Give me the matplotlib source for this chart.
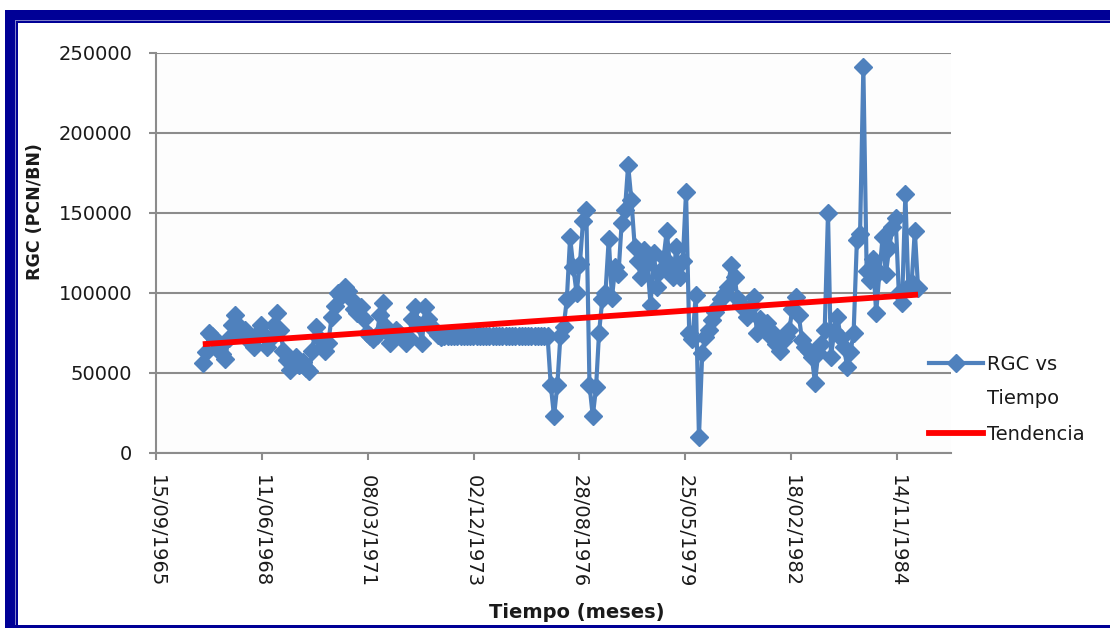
import datetime as dt
import numpy as np
import matplotlib
matplotlib.use("Agg")
import matplotlib.pyplot as plt
import matplotlib.dates as mdates
from matplotlib.patches import Rectangle
from matplotlib.lines import Line2D

# Monthly RGC readings, December 1966 through June 1985
first_month = (1966, 12)
rgc = [
    56000, 63000, 75000, 73000, 70000, 66000, 62000, 59000, 72000, 80000,
    86000, 80000, 76000, 77000, 72000, 69000, 66000, 75000, 80000, 74000,
    66000, 72000, 80000, 87500, 77000, 64000, 58000, 52000, 56000, 60000,
    55000, 57000, 53000, 51000, 64000, 79000, 72000, 66000, 64000, 69000,
    85000, 92000, 100000, 98000, 104000, 101000, 96000, 90000, 87500, 91000,
    84000, 75000, 73000, 71000, 74000, 86000, 94000, 79000, 69000, 72000,
    77000, 75000, 71000, 69000, 72000, 84000, 91000, 80000, 69000, 91000,
    84000, 79000, 76000, 74000, 72500, 73000, 73000, 73000, 73000, 73000,
    73000, 73000, 73000, 73000, 73000, 73000, 73000, 73000, 73000, 73000,
    73000, 73000, 73000, 73000, 73000, 73000, 73000, 73000, 73000, 73000,
    73000, 73000, 73000, 73000, 73000, 73000, 73000, 73000, 42500, 23000,
    42500, 73000, 79000, 96000, 135000, 116000, 100000, 118000, 145000, 152000,
    42500, 23000, 41000, 75000, 96000, 100000, 134000, 97000, 116000, 112000,
    144000, 152000, 180000, 158000, 129000, 120000, 110000, 127000, 118000, 92500,
    125000, 104000, 114000, 122000, 139000, 116000, 110000, 129000, 110000, 120000,
    163000, 75000, 71000, 99000, 10000, 62500, 72500, 77000, 83000, 88000,
    92000, 96000, 100000, 104000, 117500, 110000, 96000, 93000, 90000, 85000,
    91000, 97500, 75000, 84000, 78000, 81000, 73000, 75000, 68000, 64000,
    70000, 73000, 77000, 90000, 97500, 86000, 70500, 66000, 64000, 60000,
    44000, 62500, 68000, 77000, 150000, 60000, 76000, 85000, 72000, 66000,
    54000, 63000, 75000, 133000, 137000, 241000, 114000, 108000, 121000, 87500,
    113000, 135000, 112000, 128000, 141000, 147000, 100000, 94000, 162000, 103000,
    106000, 139000, 103000,
]
# Linear trend ("Tendencia") at the first and last month of the record
trend_values = [68000, 99000]

series_label = "RGC vs\nTiempo"
trend_label = "Tendencia"
y_ticks = [0, 50000, 100000, 150000, 200000, 250000]
axis_start = dt.date(1965, 9, 15)
tick_step_days = 1000
axis_span_days = 7510

dates = []
y0, m0 = first_month
for k in range(len(rgc)):
    mm = m0 - 1 + k
    dates.append(dt.date(y0 + mm // 12, mm % 12 + 1, 1))
xnum = mdates.date2num(dates)
vals = np.array(rgc, dtype=float)
trend_x = [xnum[0], xnum[-1]]

W, H = 1110, 628
fig = plt.figure(figsize=(W / 100, H / 100), dpi=100)
fig.patch.set_facecolor("white")


def fx(px):
    return px / W


def fy(py):
    return 1 - py / H


def box(left, top, right, bottom, color, z):
    fig.add_artist(Rectangle((fx(left), fy(bottom)), fx(right) - fx(left),
                             fy(top) - fy(bottom), transform=fig.transFigure,
                             facecolor=color, edgecolor="none", lw=0, zorder=z))


# Dark blue frame: top, left and bottom bars with a thin light inner rule
navy = "#000096"
box(5, 10, W + 10, 23, navy, -5)
box(5, 10, 18, H + 10, navy, -5)
box(5, 625, W + 10, H + 10, navy, -5)
box(15, 20, W + 10, 21, "#8080c8", -4)
box(15, 20, 16, 625, "#8080c8", -4)

ax = fig.add_axes([fx(156), fy(453), (951 - 156) / W, (453 - 53) / H])
ax.set_facecolor("#FDFDFD")

grid_c = "#8C8C8C"
ax.plot(xnum, vals, color="#4F81BD", lw=3.0, marker="D", ms=9,
        mfc="#4F81BD", mec="#4F81BD", zorder=3, solid_joinstyle="round")
ax.plot(trend_x, trend_values, color="#FF0000", lw=4.2, solid_capstyle="butt", zorder=4)

x0 = mdates.date2num(axis_start)
ax.set_xlim(x0, x0 + axis_span_days)
ax.set_ylim(0, 250000)
ax.set_yticks(y_ticks)
ax.set_yticklabels([str(v) for v in y_ticks])
xt = [x0 + tick_step_days * k for k in range(8)]
ax.set_xticks(xt)
ax.set_xticklabels([mdates.num2date(v).strftime("%d/%m/%Y") for v in xt])

ax.grid(axis="y", color=grid_c, lw=1.5, zorder=1)
ax.set_axisbelow(True)
for s in ("top", "right"):
    ax.spines[s].set_visible(False)
for s in ("left", "bottom"):
    ax.spines[s].set_color(grid_c)
    ax.spines[s].set_linewidth(1.5)

ax.tick_params(axis="both", direction="out", length=5, width=1.5, color=grid_c,
               labelsize=14, labelcolor="#1a1a1a")
ax.tick_params(axis="y", pad=12)
ax.tick_params(axis="x", pad=11)
for lab in ax.get_xticklabels():
    lab.set_rotation(270)
    lab.set_va("top")
    lab.set_ha("center")

fig.text(fx(35), fy(212), "RGC (PCN/BN)", rotation=90, ha="center", va="center",
         fontsize=12.5, fontweight="bold", color="#1a1a1a")
fig.text(fx(577), fy(612), "Tiempo (meses)", ha="center", va="center",
         fontsize=14, fontweight="bold", color="#1a1a1a")

# Legend entries at the right of the plot area
fig.add_artist(Line2D([fx(929), fx(983)], [fy(363), fy(363)], color="#4F81BD", lw=3.0))
fig.add_artist(Line2D([fx(956)], [fy(363)], color="#4F81BD", marker="D", ms=9, lw=0))
fig.text(fx(987), fy(363), series_label.split("\n")[0], ha="left", va="center_baseline",
         fontsize=14, color="#1a1a1a")
fig.text(fx(987), fy(396), series_label.split("\n")[1], ha="left", va="center_baseline",
         fontsize=14, color="#1a1a1a")
fig.add_artist(Line2D([fx(929), fx(983)], [fy(433), fy(433)], color="#FF0000", lw=4.2))
fig.text(fx(987), fy(433), trend_label, ha="left", va="center_baseline",
         fontsize=14, color="#1a1a1a")

fig.savefig("out.png", dpi=100)
